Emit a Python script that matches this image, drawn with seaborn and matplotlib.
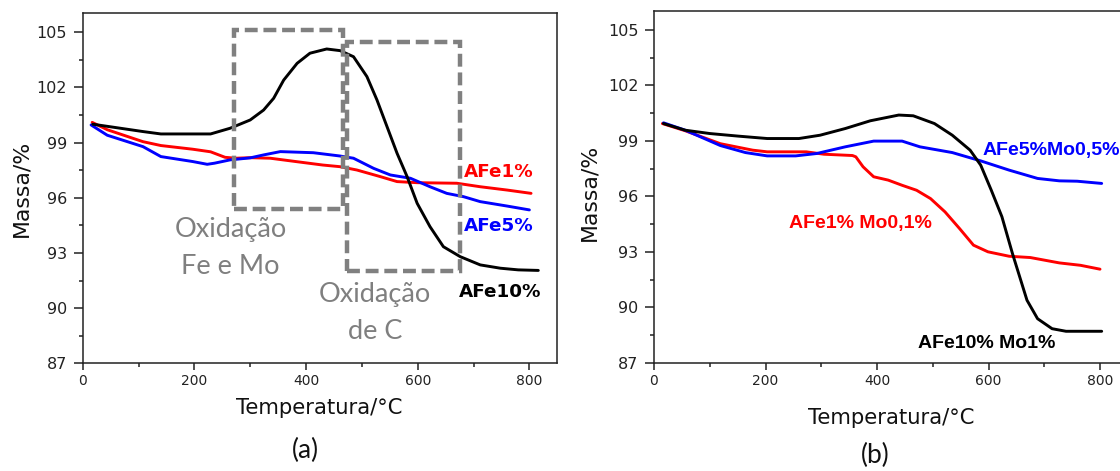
import matplotlib
matplotlib.use("Agg")
import matplotlib.pyplot as plt
from matplotlib.patches import Rectangle
from matplotlib.ticker import MultipleLocator
import numpy as np
import pandas as pd
import seaborn as sns

# ---- (a) TG curves: AFe samples ----
t_a_fe1 = [17, 44, 108, 140, 197, 229, 255, 274, 300, 336, 384, 430, 461, 491,
           533, 563, 599, 670, 712, 760, 803]
m_a_fe1 = [100.1, 99.7, 99.05, 98.84, 98.64, 98.5, 98.2, 98.15, 98.18, 98.15,
           97.96, 97.78, 97.69, 97.51, 97.15, 96.88, 96.82, 96.79, 96.6, 96.42, 96.24]

t_a_fe5 = [15, 44, 108, 140, 197, 223, 236, 264, 300, 324, 354, 413, 461, 485,
           521, 551, 587, 622, 652, 682, 712, 760, 800]
m_a_fe5 = [99.96, 99.4, 98.78, 98.24, 97.97, 97.82, 97.88, 98.06, 98.17, 98.33,
           98.51, 98.45, 98.27, 98.15, 97.6, 97.24, 97.06, 96.6, 96.24, 96.06,
           95.79, 95.55, 95.34]

t_a_fe10 = [18, 63, 108, 140, 229, 264, 300, 324, 342, 360, 384, 407, 437, 461,
            485, 509, 527, 545, 563, 581, 599, 622, 646, 676, 712, 748, 780, 816]
m_a_fe10 = [100.0, 99.8, 99.6, 99.47, 99.47, 99.78, 100.23, 100.77, 101.41, 102.4,
            103.31, 103.86, 104.09, 104.0, 103.67, 102.59, 101.32, 99.87, 98.42,
            97.15, 95.7, 94.43, 93.34, 92.8, 92.35, 92.17, 92.08, 92.05]

# ---- (b) TG curves: AFe-Mo samples ----
t_b_fe1mo = [15, 56, 119, 177, 203, 273, 305, 356, 362, 375, 394, 420, 445, 471,
             496, 522, 548, 573, 599, 637, 675, 727, 765, 800]
m_b_fe1mo = [99.94, 99.55, 98.85, 98.5, 98.41, 98.41, 98.28, 98.21, 98.14, 97.6,
             97.06, 96.88, 96.6, 96.33, 95.88, 95.16, 94.26, 93.36, 93.0, 92.76,
             92.69, 92.4, 92.27, 92.06]

t_b_fe5mo = [17, 56, 119, 164, 203, 254, 292, 343, 394, 445, 477, 535, 586, 637,
             688, 727, 759, 803]
m_b_fe5mo = [99.98, 99.58, 98.75, 98.37, 98.19, 98.19, 98.32, 98.68, 98.99, 98.99,
             98.68, 98.37, 97.92, 97.42, 96.97, 96.84, 96.82, 96.7]

t_b_fe10mo = [17, 56, 100, 151, 203, 260, 298, 343, 388, 439, 465, 503, 535, 567,
              586, 605, 624, 643, 656, 669, 688, 714, 739, 803]
m_b_fe10mo = [99.94, 99.58, 99.4, 99.26, 99.13, 99.13, 99.31, 99.67, 100.09, 100.4,
              100.36, 99.94, 99.31, 98.5, 97.69, 96.33, 94.9, 92.9, 91.64, 90.38,
              89.38, 88.84, 88.7, 88.7]

names_a = ["AFe1%", "AFe5%", "AFe10%"]
names_b = ["AFe1% Mo0,1%", "AFe5%Mo0,5%", "AFe10% Mo1%"]
colors = ["#ff0000", "#0000ff", "#000000"]

x_ticks = [0, 200, 400, 600, 800]
y_ticks = [87, 90, 93, 96, 99, 102, 105]

# dashed regions in panel (a): (T start, T end, mass low, mass high)
box_fe_mo = (271, 467, 95.37, 105.12)
box_c = (474, 675, 92.04, 104.49)


def long_frame(ts, ms, names):
    parts = []
    for t, m, n in zip(ts, ms, names):
        parts.append(pd.DataFrame({"T": t, "massa": m, "amostra": n}))
    return pd.concat(parts, ignore_index=True)


df_a = long_frame([t_a_fe1, t_a_fe5, t_a_fe10], [m_a_fe1, m_a_fe5, m_a_fe10], names_a)
df_b = long_frame([t_b_fe1mo, t_b_fe5mo, t_b_fe10mo],
                  [m_b_fe1mo, m_b_fe5mo, m_b_fe10mo], names_b)

sns.set_theme(style="ticks")
plt.rcParams["font.family"] = ["DejaVu Sans"]
plt.rcParams["axes.linewidth"] = 1.1

fig = plt.figure(figsize=(11.2, 4.71), dpi=100)
ax_a = fig.add_axes([82.7 / 1120, 107.7 / 471, 474.6 / 1120, 350 / 471])
ax_b = fig.add_axes([654 / 1120, 108.3 / 471, 473.9 / 1120, 351.7 / 471])

for ax, df, names in [(ax_a, df_a, names_a), (ax_b, df_b, names_b)]:
    sns.lineplot(data=df, x="T", y="massa", hue="amostra", hue_order=names,
                 palette=dict(zip(names, colors)), estimator=None, sort=False,
                 legend=False, linewidth=2.1, ax=ax)
    ax.set_xlim(0, 850)
    ax.set_ylim(87, 106.03)
    ax.set_xticks(x_ticks)
    ax.set_yticks(y_ticks)
    ax.xaxis.set_minor_locator(MultipleLocator(100))
    ax.yaxis.set_minor_locator(MultipleLocator(1.5))
    ax.tick_params(axis="both", which="major", direction="out", width=1.1,
                   colors="#222222")
    ax.tick_params(axis="y", which="major", length=6.2, pad=5, labelsize=11.5)
    ax.tick_params(axis="x", which="major", length=5.3, pad=2.5, labelsize=10)
    ax.tick_params(axis="both", which="minor", direction="out", length=3,
                   width=1.1, color="#222222")
    for s in ax.spines.values():
        s.set_color("#222222")
        s.set_visible(True)
    ax.set_xlabel("Temperatura/°C", fontsize=15.2, color="#111111")
    ax.set_ylabel("Massa/%", fontsize=15.8, color="#111111")

ax_a.yaxis.set_label_coords(-0.108, 0.5)
ax_a.xaxis.set_label_coords(0.498, -0.099)
ax_b.yaxis.set_label_coords(-0.115, 0.485)
ax_b.xaxis.set_label_coords(0.50, -0.129)

# dashed oxidation regions
for (x0, x1, y0, y1) in [box_fe_mo, box_c]:
    ax_a.add_patch(Rectangle((x0, y0), x1 - x0, y1 - y0, fill=False,
                             edgecolor="#808080", linewidth=3.2,
                             linestyle=(0, (2.9, 1.3)), zorder=3))

gray_kw = dict(color="#7f7f7f", fontsize=19.5, family=["Lato", "DejaVu Sans"],
               ha="center", va="center")
ax_a.text(265, 94.25, "Oxidação", **gray_kw)
ax_a.text(265, 92.25, "Fe e Mo", **gray_kw)
ax_a.text(524, 90.72, "Oxidação", **gray_kw)
ax_a.text(524, 88.72, "de C", **gray_kw)

# curve labels
lab_a = dict(fontsize=13.2, fontweight="bold", ha="left", va="center")
ax_a.text(682, 97.42, names_a[0], color=colors[0], **lab_a)
ax_a.text(682, 94.48, names_a[1], color=colors[1], **lab_a)
ax_a.text(673, 90.9, names_a[2], color=colors[2], **lab_a)

lab_b = dict(fontsize=14, fontweight="bold", ha="left", va="center",
             family=["Liberation Sans", "DejaVu Sans"])
ax_b.text(243, 94.54, names_b[0], color=colors[0], **lab_b)
ax_b.text(590, 98.47, names_b[1], color=colors[1], **lab_b)
ax_b.text(474, 88.05, names_b[2], color=colors[2], **lab_b)

panel_kw = dict(fontsize=19, family=["Lato", "DejaVu Sans"], ha="center",
                va="center", color="#111111")
fig.text(305 / 1120, 1 - 450 / 471, "(a)", **panel_kw)
fig.text(875 / 1120, 1 - 455 / 471, "(b)", **panel_kw)

fig.savefig("out.png", dpi=100)
